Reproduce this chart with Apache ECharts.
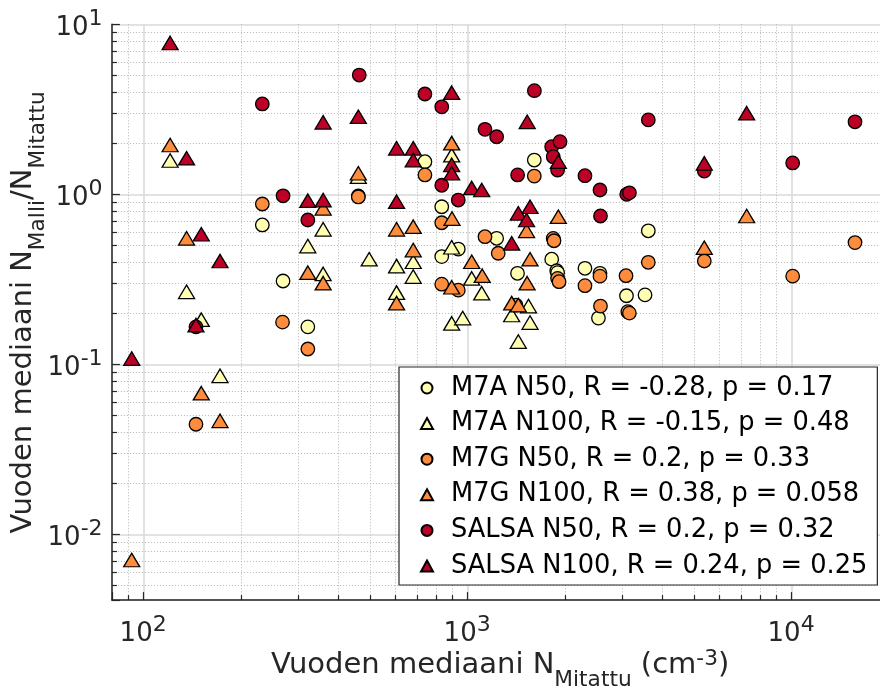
<!DOCTYPE html>
<html><head><meta charset="utf-8">
<script src="https://cdn.jsdelivr.net/npm/echarts@6/dist/echarts.min.js"></script>
<style>html,body{margin:0;padding:0;background:#fff}#c{width:880px;height:693px}</style>
</head><body><div id="c"></div><script>
const FONT = 'DejaVu Sans';
const X_MIN = 80, X_MAX = 20000, Y_MIN = 0.0041, Y_MAX = 10;

const seriesNames = [
  'M7A N50, R = -0.28, p = 0.17',
  'M7A N100, R = -0.15, p = 0.48',
  'M7G N50, R = 0.2, p = 0.33',
  'M7G N100, R = 0.38, p = 0.058',
  'SALSA N50, R = 0.2, p = 0.32',
  'SALSA N100, R = 0.24, p = 0.25'
];

const m7aN50 = [[233,0.66],[270,0.309],[322,0.166],[461,0.977],[740,1.555],[834,0.845],[834,0.43],[938,0.476],[1232,0.551],[1429,0.343],[1610,1.59],[1822,0.415],[1888,0.355],[1900,0.346],[2308,0.367],[2568,0.343],[2540,0.187],[3100,0.253],[3537,0.256],[3620,0.61]];
const m7aN100 = [[121,1.58],[136,0.267],[151,0.183],[172.5,0.0855],[322,0.496],[359,0.622],[359,0.34],[461,1.27],[498,0.415],[605,0.378],[605,0.264],[681,0.401],[681,0.328],[895,1.70],[895,0.488],[895,0.174],[968,0.187],[1032,0.32],[1108,0.262],[1371,0.195],[1437,0.136],[1545,0.22],[1562,0.176]];
const m7gN50 = [[145.4,0.0444],[233,0.877],[269,0.177],[322,0.123],[461,0.965],[740,1.30],[834,0.68],[834,0.296],[938,0.273],[1134,0.563],[1246,0.45],[1413,0.223],[1610,1.28],[1842,0.55],[1852,0.533],[1900,0.32],[1920,0.306],[2308,0.29],[2568,0.33],[2577,0.22],[3090,0.332],[3130,0.204],[3165,0.2],[3620,0.398],[5389,0.405],[10100,0.33],[15730,0.52]];
const m7gN100 = [[92.1,0.00706],[121,1.95],[136,0.551],[151,0.0676],[172.5,0.0465],[322,0.346],[359,0.827],[359,0.30],[461,1.33],[605,0.622],[605,0.229],[681,0.645],[681,0.47],[895,2.0],[897,0.72],[895,0.284],[1032,0.401],[1112,0.332],[1371,0.229],[1437,0.223],[1524,0.61],[1530,0.30],[1562,0.415],[1910,0.738],[5389,0.485],[7283,0.745]];
const salsaN50 = [[145.4,0.166],[233,3.4],[270,0.98],[322,0.706],[464,5.03],[740,3.89],[834,3.27],[834,1.13],[938,0.925],[1134,2.41],[1232,2.18],[1430,1.30],[1611,4.07],[1822,1.905],[1842,1.665],[1900,1.39],[1933,2.04],[2308,1.286],[2568,1.06],[2577,0.745],[3105,1.0],[3165,1.02],[3620,2.74],[5389,1.37],[10100,1.53],[15730,2.67]];
const salsaN100 = [[92.1,0.108],[121,7.77],[136,1.63],[145.4,0.17],[151,0.582],[172.5,0.405],[322,0.917],[359,2.65],[359,0.925],[461,2.86],[605,1.865],[605,0.905],[681,1.865],[681,1.59],[895,3.96],[895,1.49],[895,1.33],[1032,1.09],[1108,1.06],[1371,0.515],[1437,0.773],[1524,0.706],[1531,2.67],[1562,0.845],[1910,1.555],[5389,1.52],[7283,3.0]];

const colors = ['#ffffb2', '#ffffb2', '#fd8d3c', '#fd8d3c', '#bd0026', '#bd0026'];
const symbols = ['circle', 'triangle', 'circle', 'triangle', 'circle', 'triangle'];
const dataSets = [m7aN50, m7aN100, m7gN50, m7gN100, salsaN50, salsaN100];

// minor tick positions (2..9 x each decade) inside the axis ranges
const xMinor = [], yMinor = [];
[10, 100, 1000, 10000].forEach(d => { for (let k = 2; k <= 9; k++) { const v = k * d; if (v > X_MIN && v < X_MAX) xMinor.push(v); } });
[0.001, 0.01, 0.1, 1].forEach(d => { for (let k = 2; k <= 9; k++) { const v = +(k * d).toPrecision(6); if (v > Y_MIN && v < Y_MAX) yMinor.push(v); } });

const TXT = '#262626';
function powLabel(v) {
  const l = Math.log10(v); const e = Math.round(l);
  if (Math.abs(l - e) > 1e-6) return '';
  return '{b|10}{s|' + e + '}{z| }';
}
const tickRich = {
  b: { fontSize: 26, lineHeight: 26, height: 26, verticalAlign: 'bottom', fontFamily: FONT, color: TXT },
  s: { fontSize: 22, lineHeight: 24, height: 24, verticalAlign: 'top', fontFamily: FONT, color: TXT },
  z: { fontSize: 1, lineHeight: 34, fontFamily: FONT }
};
const titleRich = {
  m: { fontSize: 29, lineHeight: 30, height: 30, verticalAlign: 'top', fontFamily: FONT, color: TXT },
  s: { fontSize: 21.7, lineHeight: 22, height: 22, verticalAlign: 'bottom', fontFamily: FONT, color: TXT },
  p: { fontSize: 21.7, lineHeight: 17, height: 17, verticalAlign: 'top', fontFamily: FONT, color: TXT },
  z: { fontSize: 1, lineHeight: 41, fontFamily: FONT }
};

const series = dataSets.map((d, i) => ({
  type: 'scatter', name: seriesNames[i], data: d, z: 3,
  symbol: symbols[i],
  symbolSize: symbols[i] === 'circle' ? 13.5 : [16, 13.5],
  itemStyle: { color: colors[i], borderColor: '#000', borderWidth: 1.3, opacity: 1 },
  emphasis: { disabled: true }
}));

series.unshift({
  type: 'custom', name: 'minorX', z: 1, silent: true,
  data: xMinor.map(v => [v, Y_MIN]),
  renderItem: (params, api) => {
    const cs = params.coordSys;
    const x = Math.round(api.coord([api.value(0), Y_MIN])[0]) + 0.5;
    const bottom = cs.y + cs.height;
    return { type: 'group', children: [
      { type: 'line', shape: { x1: x, y1: cs.y, x2: x, y2: bottom }, style: { stroke: '#b4b4b4', lineWidth: 1, lineDash: [1, 2] } },
      { type: 'line', shape: { x1: x, y1: bottom, x2: x, y2: bottom - 5 }, style: { stroke: TXT, lineWidth: 1.2 } }
    ] };
  }
}, {
  type: 'custom', name: 'minorY', z: 1, silent: true,
  data: yMinor.map(v => [X_MIN, v]),
  renderItem: (params, api) => {
    const cs = params.coordSys;
    const y = Math.round(api.coord([X_MIN, api.value(1)])[1]) + 0.5;
    return { type: 'group', children: [
      { type: 'line', shape: { x1: cs.x, y1: y, x2: cs.x + cs.width, y2: y }, style: { stroke: '#b4b4b4', lineWidth: 1, lineDash: [1, 2] } },
      { type: 'line', shape: { x1: cs.x, y1: y, x2: cs.x + 5, y2: y }, style: { stroke: TXT, lineWidth: 1.2 } }
    ] };
  }
});

const chart = echarts.init(document.getElementById('c'), null, { renderer: 'canvas' });
chart.setOption({
  animation: false,
  backgroundColor: '#fff',
  grid: { left: 111.9, top: 24.3, width: 776.9, height: 575.8, containLabel: false, outerBoundsMode: 'none' },
  legend: {
    data: seriesNames, orient: 'vertical', left: 399, top: 367,
    padding: [7, 10, 5, 21], itemGap: 7.6, itemWidth: 12, itemHeight: 11,
    backgroundColor: '#fff', borderColor: TXT, borderWidth: 1.2, borderRadius: 0,
    selectedMode: false,
    formatter: n => '{t|' + n + '}',
    textStyle: { fontFamily: FONT, fontSize: 25.7, color: '#000', lineHeight: 28,
      rich: { t: { fontFamily: FONT, fontSize: 25.7, color: '#000', lineHeight: 28, padding: [0, 0, 0, 13] } } }
  },
  xAxis: {
    type: 'log', logBase: 10, min: X_MIN, max: X_MAX,
    name: '{m|Vuoden mediaani N}{s|Mitattu}{m| (cm}{p|-3}{m|)}{z| }',
    nameLocation: 'middle', nameGap: 50.5, nameMoveOverlap: false,
    nameTextStyle: { rich: titleRich },
    axisLine: { show: true, lineStyle: { color: TXT, width: 1.5 } },
    axisTick: { show: true, inside: true, length: 8, lineStyle: { color: TXT, width: 1.2 } },
    axisLabel: { margin: 13, formatter: powLabel, rich: tickRich, color: TXT },
    splitLine: { show: true, lineStyle: { color: '#d9d9d9', width: 1.5 } }
  },
  yAxis: {
    type: 'log', logBase: 10, min: Y_MIN, max: Y_MAX,
    name: '{m|Vuoden mediaani N}{s|Malli}{m|/N}{s|Mitattu}{z| }',
    nameLocation: 'middle', nameGap: 62.6, nameRotate: 90, nameMoveOverlap: false,
    nameTextStyle: { rich: titleRich },
    axisLine: { show: true, lineStyle: { color: TXT, width: 1.5 } },
    axisTick: { show: true, inside: true, length: 8, lineStyle: { color: TXT, width: 1.2 } },
    axisLabel: { margin: 9, formatter: powLabel, rich: tickRich, color: TXT },
    splitLine: { show: true, lineStyle: { color: '#d9d9d9', width: 1.5 } }
  },
  series: series
});
</script></body></html>
